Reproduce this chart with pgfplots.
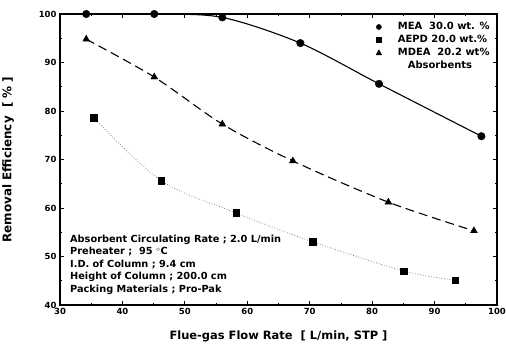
\documentclass[border=0pt]{standalone}
\usepackage{pgfplots}
\pgfplotsset{compat=1.18}
\usepackage{fontspec}
\setmainfont{DejaVu Sans}
\begin{document}
\begin{tikzpicture}
\begin{axis}[
  scale only axis, width=437bp, height=291bp,
  xmin=30, xmax=100, ymin=40, ymax=100,
  xtick={30,40,...,100}, ytick={40,50,...,100},
  minor x tick num=1, minor y tick num=1,
  tick align=inside, tick style={black, line width=0.8pt},
  major tick length=4pt, minor tick length=2.5pt,
  axis line style={line width=1.2pt},
  /pgf/number format/assume math mode=true,
  ticklabel style={font=\bfseries\fontsize{8.5}{10}\selectfont},
  xlabel={Flue-gas Flow Rate\ \ [ L/min, STP ]},
  ylabel={Removal Efficiency\ \ [ \% ]},
  xlabel style={font=\bfseries\fontsize{11.5}{12}\selectfont, yshift=-9pt},
  ylabel style={font=\bfseries\fontsize{12}{12}\selectfont, yshift=18pt},
  legend style={draw=none, fill=none, at={(0.995,0.985)}, anchor=north east,
    font=\bfseries\fontsize{10}{10.5}\selectfont, row sep=0pt},
  legend cell align=left,
  clip=false,
]
% MEA
\addplot[black, line width=1.1pt, smooth, tension=0.5, forget plot] coordinates {
 (34.2,100) (45.1,100) (56,99.3) (68.5,94) (81.1,85.6) (97.5,74.8)};
% MDEA
\addplot[black, line width=1.1pt, dash pattern=on 9pt off 5pt, smooth, tension=0.5, forget plot] coordinates {
 (34.2,94.8) (45.1,87.0) (56,77.3) (67.3,69.7) (82.6,61.2) (96.3,55.3)};
% AEPD
\addplot[black!60, line width=0.7pt, dotted, smooth, tension=0.5, forget plot] coordinates {
 (35.4,78.6) (46.2,65.6) (58.2,59.0) (70.5,53.0) (85.1,47.0) (93.3,45.1)};
\addplot[only marks, mark=*, mark size=3.8pt, black,
  legend image code/.code={\fill[black] (0,0) circle (2.6pt);}] coordinates {
 (34.2,100) (45.1,100) (56,99.3) (68.5,94) (81.1,85.6) (97.5,74.8)};
\addlegendentry{\hspace{14bp}MEA\ \ 30.0 wt. \%}
\addplot[only marks, mark=square*, mark size=3.3pt, black,
  legend image code/.code={\fill[black] (-2.3pt,-2.3pt) rectangle (2.3pt,2.3pt);}] coordinates {
 (35.4,78.6) (46.2,65.6) (58.2,59.0) (70.5,53.0) (85.1,47.0) (93.3,45.1)};
\addlegendentry{\hspace{14bp}AEPD 20.0 wt.\%}
\addplot[only marks, mark=triangle*, mark size=4pt, black,
  legend image code/.code={\fill[black] (-2.8pt,-2.2pt) -- (2.8pt,-2.2pt) -- (0,3pt) -- cycle;}] coordinates {
 (34.2,94.8) (45.1,87.0) (56,77.3) (67.3,69.7) (82.6,61.2) (96.3,55.3)};
\addlegendentry{\hspace{14bp}MDEA\ \ 20.2 wt\%}
\addlegendimage{empty legend}
\addlegendentry{\hspace{24bp}Absorbents}
\node[font=\bfseries\fontsize{9.8}{12.6}\selectfont, anchor=south west, align=left, inner sep=0pt]
  at (axis cs:31.6,42.1) {Absorbent Circulating Rate ; 2.0 L/min\\
  Preheater ;\ \ 95 $^{\circ}$C\\
  I.D. of Column ; 9.4 cm\\
  Height of Column ; 200.0 cm\\
  Packing Materials ; Pro-Pak};
\end{axis}
\pgfresetboundingbox
\path[use as bounding box] (-60bp,-47bp) rectangle (446bp,305bp);
\end{tikzpicture}
\end{document}
